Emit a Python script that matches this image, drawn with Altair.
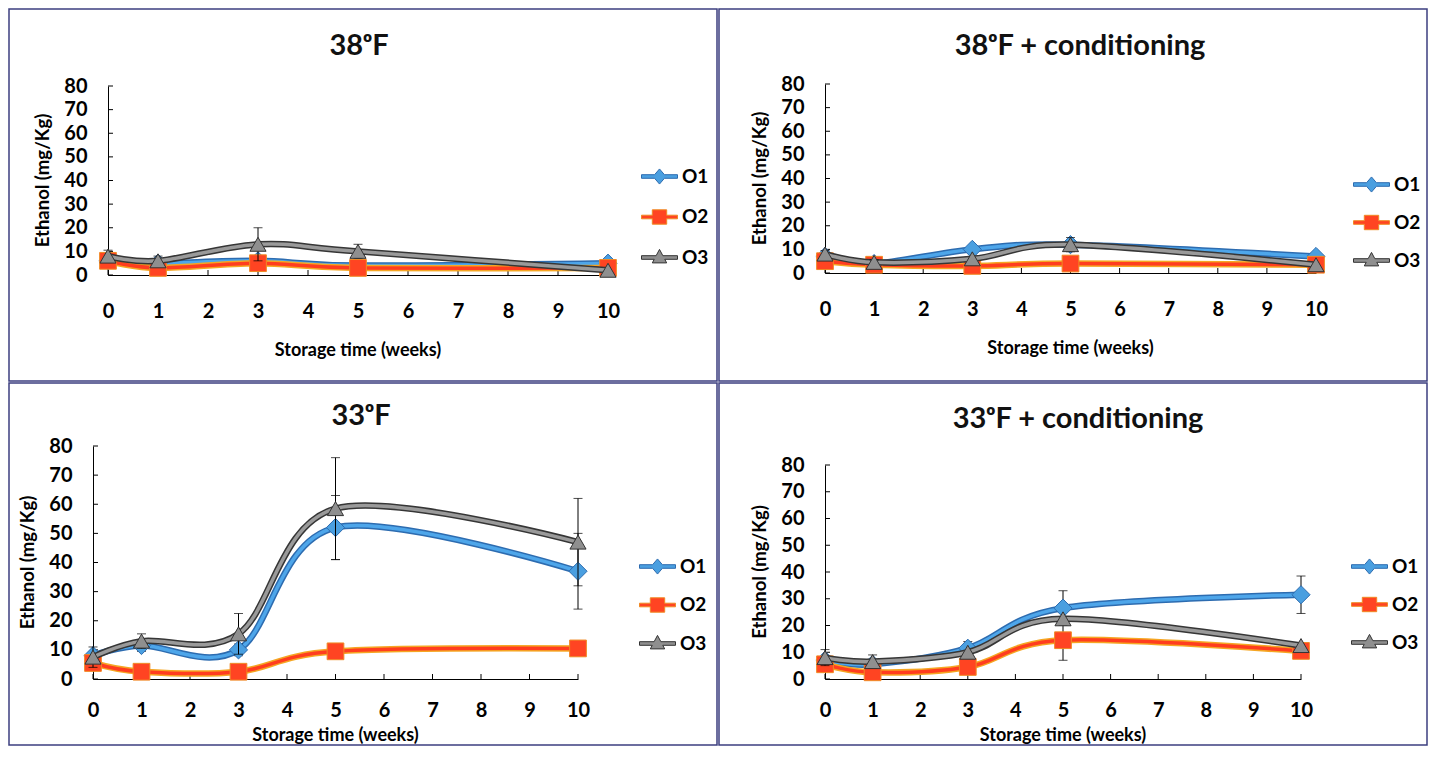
import altair as alt
import pandas as pd

# ---------------- data ----------------
weeks = [0, 1, 3, 5, 10]
series_names = ["O1", "O2", "O3"]
x_ticks = list(range(0, 11))
y_ticks = list(range(0, 81, 10))
panel_titles = ["38ᵒF", "38ᵒF + conditioning", "33ᵒF", "33ᵒF + conditioning"]
x_title = "Storage time (weeks)"
y_title = "Ethanol (mg/Kg)"

# 38 F
f38_O1 = [6, 5, 6, 4, 5]
f38_O2 = [6, 3, 5, 3, 3]
f38_O3 = [8, 6, 13, 10, 2]
f38_O1_err = [0, 0, 0, 0, 0]
f38_O2_err = [0, 0, 0, 0, 0]
f38_O3_err = [2.5, 2, 7, 3, 0]

# 38 F + conditioning
c38_O1 = [7, 4, 10, 12, 7]
c38_O2 = [5, 3.5, 3, 4, 3.5]
c38_O3 = [8, 4.5, 6, 12, 3.5]
c38_O1_err = [0, 0, 0, 0, 0]
c38_O2_err = [0, 0, 0, 0, 0]
c38_O3_err = [1.5, 1, 0, 3, 0]

# 33 F
f33_O1 = [8, 11.5, 10, 52, 37]
f33_O2 = [5.5, 2.5, 2.5, 9.5, 10.5]
f33_O3 = [7.5, 13, 15.5, 58.5, 47]
f33_O1_err = [0, 2, 2, 11, 13]
f33_O2_err = [0, 0, 0, 0, 0]
f33_O3_err = [3.5, 2.5, 7, 17.5, 15]

# 33 F + conditioning
c33_O1 = [7, 5.5, 11.5, 26.5, 31.5]
c33_O2 = [5.5, 2.5, 4.5, 14.5, 10.5]
c33_O3 = [8, 6.5, 10, 22.5, 12.5]
c33_O1_err = [0, 0, 2.5, 6.5, 7]
c33_O2_err = [0, 0, 0, 7.5, 0]
c33_O3_err = [3, 2.5, 0, 0, 0]

# ---------------- styles ----------------
FONT = "Lato"
line_outer = {"O1": "#2d6cb0", "O2": "#f5a623", "O3": "#363636"}
line_inner = {"O1": "#4ea6ea", "O2": "#ff3d1f", "O3": "#9a9a9a"}
mk_fill = {"O1": "#4a9fe0", "O2": "#ff4422", "O3": "#8f8f8f"}
mk_stroke = {"O1": "#2d6cb0", "O2": "#f08a24", "O3": "#333333"}
mk_shape = {"O1": "diamond", "O2": "square", "O3": "triangle-up"}
mk_size = {"O1": 330, "O2": 280, "O3": 260}
legend_paths = [
    "M-1,-0.1L-0.274,-0.1L0,-0.42L0.274,-0.1L1,-0.1L1,0.1L0.274,0.1L0,0.42L-0.274,0.1L-1,0.1Z",
    "M-1,-0.1L-0.4,-0.1L-0.4,-0.4L0.4,-0.4L0.4,-0.1L1,-0.1L1,0.1L0.4,0.1L0.4,0.4L-0.4,0.4L-0.4,0.1L-1,0.1Z",
    "M-1,-0.1L-0.187,-0.1L0,-0.45L0.187,-0.1L1,-0.1L1,0.1L0.293,0.1L0.4,0.3L-0.4,0.3L-0.293,0.1L-1,0.1Z",
]
BORDER = "#3c3f80"

# page geometry (absolute pixels): panel frame, group origin, plot box, text & legend spots
layouts = [
    dict(frame=(8, 8, 716, 380), origin=(113, 98), plot=(107, 85, 607, 274),
         title=(358, 45), xt_y=350, leg=(640, 175), rowPad=11.5, xlp=26.5),
    dict(frame=(716, 8, 1424, 380), origin=(825, 98), plot=(822, 83, 1313, 272),
         title=(1077, 45), xt_y=348, leg=(1350, 183), rowPad=9, xlp=26.5),
    dict(frame=(8, 380, 716, 742), origin=(113, 470), plot=(92, 443, 577, 676),
         title=(360, 413), xt_y=733, leg=(638, 563), rowPad=9.5, xlp=21.5),
    dict(frame=(716, 380, 1424, 742), origin=(825, 470), plot=(822, 462, 1298, 676),
         title=(1075, 416), xt_y=733, leg=(1348, 563), rowPad=9, xlp=21.5),
]


def make_panel(title, vals, errs, lay):
    rows = []
    for s, v, e in zip(series_names, vals, errs):
        for w, vv, ee in zip(weeks, v, e):
            rows.append({"week": w, "series": s, "value": vv, "err": ee,
                         "lo": vv - ee, "hi": vv + ee})
    df = pd.DataFrame(rows)
    ox, oy = lay["origin"]
    fx0, fy0, fx1, fy1 = [a - b for a, b in zip(lay["frame"], (ox, oy, ox, oy))]
    px0, py0, px1, py1 = [a - b for a, b in zip(lay["plot"], (ox, oy, ox, oy))]
    W, H = px1, py1
    xs = alt.Scale(domain=[0, 10], nice=False, zero=False, range=[px0, px1])
    ys = alt.Scale(domain=[0, 80], nice=False, range=[py1, py0])

    main_x_axis = alt.Axis(values=x_ticks, format="d", ticks=False, tickSize=0, grid=False,
                           labelPadding=lay["xlp"], title=None,
                           domainColor="black", domainWidth=1, labelFlush=False)
    main_y_axis = alt.Axis(values=y_ticks, format="d", ticks=False, tickSize=0, grid=False,
                           labelPadding=21, title=None, offset=-px0,
                           domainColor="black", domainWidth=1)

    layers = []
    one = pd.DataFrame({"t": [title], "xt": [x_title], "yt": [y_title]})
    border = alt.Chart(one).mark_rect(fill="#ffffff", fillOpacity=0, stroke=BORDER, strokeWidth=1.5).encode(
        x=alt.value(fx0), x2=alt.value(fx1), y=alt.value(fy0), y2=alt.value(fy1))
    layers.append(border)

    tx, ty = lay["title"]
    ttl = alt.Chart(one).mark_text(font=FONT, fontSize=29, fontWeight="bold", color="#111111",
                                   align="center", baseline="middle").encode(
        text="t:N", x=alt.value(tx - ox), y=alt.value(ty - oy))
    xtt = alt.Chart(one).mark_text(font=FONT, fontSize=18, fontWeight="bold", color="black",
                                   align="center", baseline="middle").encode(
        text="xt:N", x=alt.value((px0 + px1) / 2), y=alt.value(lay["xt_y"] - oy))
    ytt = alt.Chart(one).mark_text(font=FONT, fontSize=18.5, fontWeight="bold", color="black",
                                   align="center", baseline="middle", angle=270).encode(
        text="yt:N", x=alt.value(px0 - 65), y=alt.value((py0 + py1) / 2))
    layers += [ttl, xtt, ytt]

    # inside tick marks on both axes
    xt = alt.Chart(pd.DataFrame({"v": x_ticks})).mark_rule(color="black", strokeWidth=1).encode(
        x=alt.X("v:Q", scale=xs, axis=None), y=alt.value(py1), y2=alt.value(py1 - 5))
    yt = alt.Chart(pd.DataFrame({"v": y_ticks})).mark_rule(color="black", strokeWidth=1).encode(
        y=alt.Y("v:Q", scale=ys, axis=None), x=alt.value(px0), x2=alt.value(px0 + 5))

    first = True
    for s in series_names:
        base = alt.Chart(df).transform_filter(alt.datum.series == s)
        outer = base.mark_line(interpolate="cardinal", color=line_outer[s], strokeWidth=6.5,
                               strokeCap="round", strokeJoin="round").encode(
            x=alt.X("week:Q", scale=xs, axis=main_x_axis if first else None),
            y=alt.Y("value:Q", scale=ys, axis=main_y_axis if first else None))
        if first:
            layers += [xt, yt]
        first = False
        inner = base.mark_line(interpolate="cardinal", color=line_inner[s], strokeWidth=3.5,
                               strokeCap="round", strokeJoin="round").encode(
            x=alt.X("week:Q", scale=xs, axis=None),
            y=alt.Y("value:Q", scale=ys, axis=None))
        eb = base.transform_filter("datum.err > 0")
        rule = eb.mark_rule(color="black", strokeWidth=1).encode(
            x=alt.X("week:Q", scale=xs, axis=None),
            y=alt.Y("lo:Q", scale=ys, axis=None), y2="hi:Q")
        cap_hi = eb.mark_tick(color="black", orient="horizontal", size=9, thickness=1).encode(
            x=alt.X("week:Q", scale=xs, axis=None), y=alt.Y("hi:Q", scale=ys, axis=None))
        cap_lo = eb.mark_tick(color="black", orient="horizontal", size=9, thickness=1).encode(
            x=alt.X("week:Q", scale=xs, axis=None), y=alt.Y("lo:Q", scale=ys, axis=None))
        pts = base.mark_point(filled=True, shape=mk_shape[s], size=mk_size[s], fill=mk_fill[s],
                              stroke=mk_stroke[s], strokeWidth=1, opacity=1).encode(
            x=alt.X("week:Q", scale=xs, axis=None), y=alt.Y("value:Q", scale=ys, axis=None))
        layers += [outer, inner, rule, cap_hi, cap_lo, pts]

    lx, ly = lay["leg"]
    leg_kw = dict(orient="none", legendX=lx - ox, legendY=ly - 18 - oy, title=None,
                  labelFont=FONT, labelFontWeight="bold", labelFontSize=19, labelColor="black",
                  symbolSize=1296, symbolStrokeWidth=1, rowPadding=lay["rowPad"], labelOffset=4,
                  padding=0)
    legend_layer = alt.Chart(df).transform_filter("false").mark_point(filled=True, size=1296, opacity=1).encode(
        x=alt.X("week:Q", scale=xs, axis=None),
        y=alt.Y("value:Q", scale=ys, axis=None),
        shape=alt.Shape("series:N", scale=alt.Scale(domain=series_names, range=legend_paths),
                        legend=alt.Legend(**leg_kw)),
        fill=alt.Fill("series:N", scale=alt.Scale(domain=series_names,
                                                  range=[mk_fill[s] for s in series_names]),
                      legend=alt.Legend(**leg_kw)),
        stroke=alt.Stroke("series:N", scale=alt.Scale(domain=series_names,
                                                      range=[mk_stroke[s] for s in series_names]),
                          legend=alt.Legend(**leg_kw)),
    )
    layers.append(legend_layer)

    return alt.layer(*layers).properties(width=W, height=H).resolve_axis(x="independent", y="independent")


panels_data = [
    ([f38_O1, f38_O2, f38_O3], [f38_O1_err, f38_O2_err, f38_O3_err]),
    ([c38_O1, c38_O2, c38_O3], [c38_O1_err, c38_O2_err, c38_O3_err]),
    ([f33_O1, f33_O2, f33_O3], [f33_O1_err, f33_O2_err, f33_O3_err]),
    ([c33_O1, c33_O2, c33_O3], [c33_O1_err, c33_O2_err, c33_O3_err]),
]
panels = [make_panel(t, v, e, lay) for t, (v, e), lay in zip(panel_titles, panels_data, layouts)]

ind = dict(x="independent", y="independent", shape="independent", fill="independent", stroke="independent")
row1 = alt.hconcat(panels[0], panels[1], spacing=0).resolve_scale(**ind)
row2 = alt.hconcat(panels[2], panels[3], spacing=0).resolve_scale(**ind)
chart = alt.vconcat(row1, row2, spacing=0).resolve_scale(**ind).properties(
    padding=0, background="white"
).configure_view(strokeWidth=0).configure_axis(
    labelFont=FONT, labelFontWeight="bold", labelFontSize=20, labelColor="black",
)

chart.save("out.html", embed_options={"renderer": "svg", "actions": False})
